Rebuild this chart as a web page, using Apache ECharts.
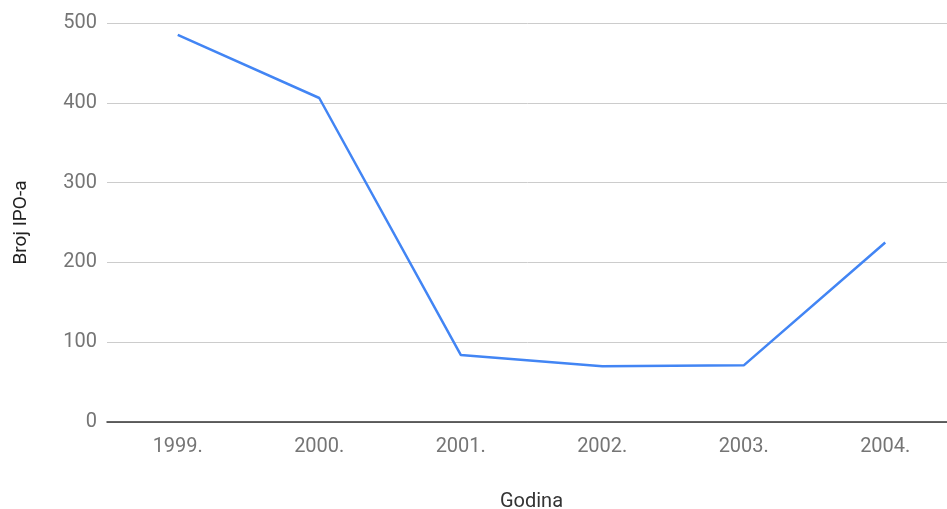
<!DOCTYPE html>
<html>
<head>
<meta charset="utf-8">
<script src="https://cdn.jsdelivr.net/npm/echarts@6/dist/echarts.min.js"></script>
<style>
html,body{margin:0;padding:0;background:#fff;}
#chart{width:947px;height:509px;}
</style>
</head>
<body>
<div id="chart"></div>
<script>
const categories = ['1999.', '2000.', '2001.', '2002.', '2003.', '2004.'];
const ipoCounts = [485, 406, 84, 70, 71, 225];
const yTicks = [0, 100, 200, 300, 400, 500];

const chart = echarts.init(document.getElementById('chart'), null, {renderer: 'canvas'});
chart.setOption({
  animation: false,
  backgroundColor: '#ffffff',
  textStyle: {fontFamily: 'Roboto'},
  grid: {left: 107, right: -9, top: 23, bottom: 87, containLabel: false, outerBoundsMode: 'none'},
  xAxis: {
    type: 'category',
    data: categories,
    boundaryGap: true,
    name: 'Godina',
    nameLocation: 'middle',
    nameGap: 70,
    nameTextStyle: {color: '#333333', fontSize: 20, fontFamily: 'Roboto'},
    axisLine: {show: true, lineStyle: {color: '#333333', width: 1.5}},
    axisTick: {show: false},
    axisLabel: {color: '#757575', fontSize: 20, margin: 15, fontFamily: 'Roboto'},
    splitLine: {show: false}
  },
  yAxis: {
    type: 'value',
    min: yTicks[0],
    max: yTicks[yTicks.length - 1],
    interval: 100,
    name: 'Broj IPO-a',
    nameLocation: 'middle',
    nameGap: 76,
    nameRotate: 90,
    nameTextStyle: {color: '#222222', fontSize: 19, fontFamily: 'Roboto'},
    axisLine: {show: false},
    axisTick: {show: false},
    axisLabel: {color: '#757575', fontSize: 20, margin: 10, fontFamily: 'Roboto'},
    splitLine: {show: true, lineStyle: {color: '#cccccc', width: 1}}
  },
  series: [{
    type: 'line',
    data: ipoCounts,
    showSymbol: false,
    symbol: 'none',
    lineStyle: {color: '#4285F4', width: 2.5},
    itemStyle: {color: '#4285F4'}
  }]
});
</script>
</body>
</html>
